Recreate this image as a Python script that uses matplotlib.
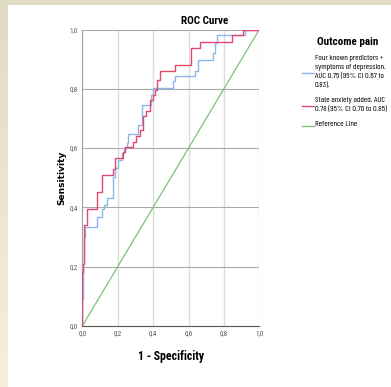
import matplotlib
matplotlib.use("Agg")
import matplotlib.pyplot as plt
from matplotlib.lines import Line2D
from matplotlib.colors import LinearSegmentedColormap
import numpy as np

# ---- data ----
fpr_base = [0, 0, 0.005, 0.005, 0.01, 0.01, 0.018, 0.018, 0.081, 0.081, 0.11, 0.11,
            0.125, 0.125, 0.14, 0.14, 0.172, 0.172, 0.185, 0.185, 0.2, 0.2, 0.222, 0.222,
            0.236, 0.236, 0.25, 0.25, 0.26, 0.26, 0.317, 0.317, 0.335, 0.335, 0.39, 0.39,
            0.40, 0.40, 0.51, 0.51, 0.525, 0.525, 0.637, 0.637, 0.656, 0.656, 0.74, 0.74,
            0.75, 0.75, 0.763, 0.763, 0.92, 0.92, 1.0]
tpr_base = [0, 0.09, 0.09, 0.21, 0.21, 0.30, 0.30, 0.333, 0.333, 0.367, 0.367, 0.394,
            0.394, 0.408, 0.408, 0.431, 0.431, 0.504, 0.504, 0.532, 0.532, 0.56, 0.56, 0.582,
            0.582, 0.60, 0.60, 0.616, 0.616, 0.647, 0.647, 0.678, 0.678, 0.744, 0.744, 0.78,
            0.78, 0.802, 0.802, 0.825, 0.825, 0.842, 0.842, 0.861, 0.861, 0.898, 0.898, 0.922,
            0.922, 0.955, 0.955, 0.98, 0.98, 1.0, 1.0]

fpr_anx = [0, 0, 0.003, 0.003, 0.007, 0.007, 0.012, 0.012, 0.028, 0.028, 0.081, 0.081,
           0.11, 0.11, 0.172, 0.172, 0.185, 0.185, 0.228, 0.228, 0.24, 0.24, 0.288, 0.288,
           0.305, 0.305, 0.326, 0.326, 0.341, 0.341, 0.36, 0.36, 0.382, 0.382, 0.40, 0.40,
           0.41, 0.41, 0.42, 0.42, 0.439, 0.439, 0.524, 0.524, 0.614, 0.614, 0.665, 0.665,
           0.844, 0.844, 0.91, 0.91, 1.0]
tpr_anx = [0, 0.183, 0.183, 0.21, 0.21, 0.31, 0.31, 0.34, 0.34, 0.394, 0.394, 0.453,
           0.453, 0.509, 0.509, 0.528, 0.528, 0.566, 0.566, 0.588, 0.588, 0.605, 0.605, 0.622,
           0.622, 0.64, 0.64, 0.661, 0.661, 0.707, 0.707, 0.725, 0.725, 0.763, 0.763, 0.78,
           0.78, 0.797, 0.797, 0.83, 0.83, 0.861, 0.861, 0.881, 0.881, 0.938, 0.938, 0.958,
           0.958, 0.98, 0.98, 1.0, 1.0]

ref_x = [0, 1]
ref_y = [0, 1]

ticks = [0.0, 0.2, 0.4, 0.6, 0.8, 1.0]
tick_labels = ["0,0", "0,2", "0,4", "0,6", "0,8", "1,0"]

title = "ROC Curve"
x_label = "1 - Specificity"
y_label = "Sensitivity"
legend_title = "Outcome pain"
legend_labels = ["Four known predictors +\nsymptoms of depression.\nAUC 0.75 (95% CI 0.67 to\n0.83).",
                 "State anxiety added. AUC\n0.78 (95% CI 0.70 to 0.85)",
                 "Reference Line"]

c_blue = "#8db6ee"
c_red = "#e2486e"
c_green = "#7cc27a"

NARROW = ["Liberation Sans Narrow", "Roboto Condensed", "Archivo Narrow", "DejaVu Sans"]
NARROW_B = ["Liberation Sans Narrow", "Roboto Condensed", "Barlow Semi Condensed", "DejaVu Sans"]
LEG = ["Barlow Condensed", "Roboto Condensed", "DejaVu Sans"]
plt.rcParams['font.family'] = NARROW

W, H = 391, 387
fig = plt.figure(figsize=(W / 100, H / 100), dpi=100)
fig.patch.set_facecolor("white")

# beige frame strips
bg = fig.add_axes([0, 0, 1, 1], zorder=-10)
bg.set_axis_off()
grad = np.linspace(0, 1, 100)[:, None]
cmap = LinearSegmentedColormap.from_list("b", ["#e0dbc3", "#f6f0da"])
bg.imshow(grad, extent=[0, 8, H, 0], cmap=cmap, aspect="auto")
bg.add_patch(plt.Rectangle((0, 0), W, 4.5, color="#e0dbc3", lw=0))
bg.set_xlim(0, W); bg.set_ylim(H, 0)

L, R, T, B = 82.3, 259.3, 29.5, 326
ax = fig.add_axes([L / W, 1 - B / H, (R - L) / W, (B - T) / H])
ax.set_xlim(0, 1); ax.set_ylim(0, 1)
ax.set_facecolor("white")

for t in ticks[1:]:
    ax.axvline(t, color="#dcdcdc", lw=1.0, zorder=1)
for t in ticks[1:]:
    ax.axhline(t, color="#a9a9a9", lw=0.8, zorder=1)

ax.plot(ref_x, ref_y, color=c_green, lw=0.9, zorder=3)
ax.plot(fpr_base, tpr_base, color=c_blue, lw=1.0, zorder=4)
ax.plot(fpr_anx, tpr_anx, color=c_red, lw=1.0, zorder=5)

for s in ["top", "right"]:
    ax.spines[s].set_visible(False)
ax.spines["left"].set_color("#a0a0a0")
ax.spines["bottom"].set_color("#555555")
ax.spines["left"].set_linewidth(0.8)
ax.spines["bottom"].set_linewidth(0.8)
ax.set_xticks(ticks); ax.set_yticks(ticks)
ax.set_xticklabels(tick_labels); ax.set_yticklabels(tick_labels)
ax.tick_params(length=0, labelsize=5, colors="#555555", pad=3)

fig.text(205 / W, 1 - 20.7 / H, title, fontsize=8, fontweight="bold",
         family=NARROW_B, ha="center", va="center")
ax.set_xlabel(x_label, fontsize=8.5, fontweight="bold", family=NARROW_B)
ax.xaxis.set_label_coords(0.5, (326 - 356.7) / 296.5)
ax.xaxis.label.set_va("center")
ax.set_ylabel(y_label, fontsize=6.5, fontweight="bold", family=["DejaVu Sans"])
ax.yaxis.set_label_coords((62 - L) / (R - L), 0.5)
ax.yaxis.label.set_va("center")

# manual legend
fig.text(348 / W, 1 - 42 / H, legend_title, fontsize=8, fontweight="bold",
         family=NARROW_B, ha="center", va="center")
entries = [(c_blue, 60, 73.3, legend_labels[0]),
           (c_red, 101.5, 106, legend_labels[1]),
           (c_green, 126, 126, legend_labels[2])]
for col, ty, ly, lab in entries:
    fig.add_artist(Line2D([301.7 / W, 314.3 / W], [1 - ly / H, 1 - ly / H],
                          color=col, lw=1.0))
    fig.text(315 / W, 1 - (ty - 5) / H, lab, fontsize=6.0, ha="left", va="top",
             linespacing=1.4, family=LEG)

fig.savefig("out.png", dpi=100)
